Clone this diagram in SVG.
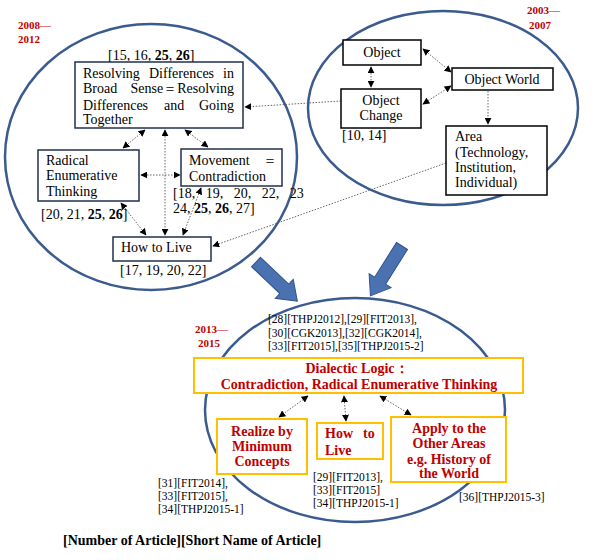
<svg xmlns="http://www.w3.org/2000/svg" width="592" height="560" viewBox="0 0 592 560">
<defs>
<marker id="ah" viewBox="0 0 10 10" refX="9" refY="5" markerWidth="7" markerHeight="7" markerUnits="userSpaceOnUse" orient="auto-start-reverse">
<path d="M0,0 L10,5 L0,10 z" fill="#000"/>
</marker>
<style>
.ell{fill:none;stroke:#3b5b8f;stroke-width:2.5}
.nb{fill:#fff;stroke:#1f3050;stroke-width:1.5}
.kb{fill:#fff;stroke:#000;stroke-width:1.5}
.ob{fill:#fff;stroke:#ffc000;stroke-width:2}
.t{font-family:"Liberation Serif",serif;font-size:14px;fill:#000}
.s{font-family:"Liberation Serif",serif;font-size:11.5px;fill:#000}
.r{font-family:"Liberation Serif",serif;font-size:14px;font-weight:bold;fill:#c00000}
.y{font-family:"Liberation Serif",serif;font-size:11px;font-weight:bold;fill:#c00000}
.c{fill:none;stroke:#666;stroke-width:1;stroke-dasharray:1.5 1.5}
.d{marker-start:url(#ah);marker-end:url(#ah)}
.e{marker-end:url(#ah)}
.big{fill:#4a72b0;stroke:#2f528f;stroke-width:1}
</style>
</defs>
<rect width="592" height="560" fill="#fff"/>

<g id="ellipses">
<ellipse class="ell" cx="151" cy="157" rx="146" ry="133"/>
<ellipse class="ell" cx="443" cy="108" rx="135" ry="97"/>
<ellipse class="ell" cx="355" cy="410" rx="150" ry="112"/>
</g>

<g id="years">
<text class="y" x="18" y="29">2008—</text>
<text class="y" x="18" y="43">2012</text>
<text class="y" x="527" y="14">2003—</text>
<text class="y" x="529" y="29">2007</text>
<text class="y" x="195" y="333">2013—</text>
<text class="y" x="198" y="347">2015</text>
</g>

<g id="big-arrows">
<polygon class="big" transform="translate(256,262) rotate(43.5)" points="0,-6.5 39,-6.5 39,-13 57,0 39,13 39,6.5 0,6.5"/>
<polygon class="big" transform="translate(402,246) rotate(122.3)" points="0,-6.5 41,-6.5 41,-13 59,0 41,13 41,6.5 0,6.5"/>
</g>

<g id="connectors">
<line class="c d" x1="145" y1="130" x2="123" y2="148"/>
<line class="c d" x1="165" y1="130" x2="165" y2="235"/>
<line class="c d" x1="185" y1="130" x2="208" y2="147"/>
<line class="c d" x1="141" y1="175" x2="180" y2="175"/>
<line class="c d" x1="121" y1="203" x2="146" y2="235"/>
<line class="c d" x1="201" y1="188" x2="183" y2="235"/>
<line class="c e" x1="446" y1="163" x2="213" y2="246"/>
<line class="c e" x1="341" y1="101" x2="245" y2="107"/>
<line class="c d" x1="371" y1="67" x2="371" y2="87"/>
<line class="c d" x1="423" y1="49" x2="451" y2="72"/>
<line class="c d" x1="423" y1="104" x2="451" y2="86"/>
<line class="c e" x1="488" y1="91" x2="488" y2="124"/>
<line class="c d" x1="308" y1="396" x2="279" y2="417"/>
<line class="c d" x1="344" y1="396" x2="346" y2="421"/>
<line class="c d" x1="380" y1="396" x2="411" y2="415"/>
</g>

<g id="n-resolving">
<text class="t" x="108" y="60">[15, 16, <tspan font-weight="bold">25</tspan>, <tspan font-weight="bold">26</tspan>]</text>
<rect class="nb" x="75" y="62" width="168" height="66"/>
<text class="t" y="78"><tspan x="83">Resolving</tspan><tspan x="149">Differences</tspan><tspan x="234" text-anchor="end">in</tspan></text>
<text class="t" y="93"><tspan x="83">Broad</tspan><tspan x="234" text-anchor="end">Sense＝Resolving</tspan></text>
<text class="t" y="110"><tspan x="83">Differences</tspan><tspan x="164">and</tspan><tspan x="234" text-anchor="end">Going</tspan></text>
<text class="t" x="83" y="124">Together</text>
</g>

<g id="n-radical">
<rect class="nb" x="38" y="150" width="101" height="51"/>
<text class="t" x="46" y="165">Radical</text>
<text class="t" x="46" y="180">Enumerative</text>
<text class="t" x="46" y="196">Thinking</text>
<text class="t" x="41" y="219">[20, 21, <tspan font-weight="bold">25</tspan>, <tspan font-weight="bold">26</tspan>]</text>
</g>

<g id="n-movement">
<rect class="nb" x="181" y="149" width="101" height="37"/>
<text class="t" y="165"><tspan x="189">Movement</tspan><tspan x="263">＝</tspan></text>
<text class="t" x="189" y="181">Contradiction</text>
<text class="t" x="173" y="198" word-spacing="7">[18, 19, 20, 22, 23</text>
<text class="t" x="173" y="213">24, <tspan font-weight="bold">25</tspan>, <tspan font-weight="bold">26</tspan>, 27]</text>
</g>

<g id="n-howtolive">
<rect class="nb" x="113" y="237" width="98" height="24"/>
<text class="t" x="121" y="252">How to Live</text>
<text class="t" x="120" y="275">[17, 19, 20, 22]</text>
</g>

<g id="n-object">
<rect class="kb" x="343" y="40" width="78" height="25"/>
<text class="t" x="382" y="57" text-anchor="middle">Object</text>
</g>

<g id="n-objectworld">
<rect class="kb" x="452" y="68" width="101" height="22"/>
<text class="t" x="502" y="84" text-anchor="middle">Object World</text>
</g>

<g id="n-objectchange">
<rect class="kb" x="341" y="89" width="80" height="39"/>
<text class="t" x="381" y="105" text-anchor="middle">Object</text>
<text class="t" x="381" y="120" text-anchor="middle">Change</text>
<text class="t" x="342" y="140" font-size="13">[10, 14]</text>
</g>

<g id="n-area">
<rect class="kb" x="446" y="126" width="101" height="69"/>
<text class="t" x="455" y="141">Area</text>
<text class="t" x="455" y="157">(Technology,</text>
<text class="t" x="455" y="172">Institution,</text>
<text class="t" x="455" y="187">Individual)</text>
</g>

<g id="refs-2013">
<text class="s" x="268" y="323">[28][THPJ2012],[29][FIT2013],</text>
<text class="s" x="268" y="337">[30][CGK2013],[32][CGK2014],</text>
<text class="s" x="268" y="350">[33][FIT2015],[35][THPJ2015-2]</text>
</g>

<g id="n-dialectic">
<rect class="ob" x="194" y="358" width="329" height="35"/>
<text class="r" x="357" y="373" text-anchor="middle">Dialectic Logic：</text>
<text class="r" x="359" y="389" text-anchor="middle">Contradiction, Radical Enumerative Thinking</text>
</g>

<g id="n-realize">
<rect class="ob" x="217" y="419" width="90" height="55"/>
<text class="r" x="262" y="436" text-anchor="middle">Realize by</text>
<text class="r" x="262" y="451" text-anchor="middle">Minimum</text>
<text class="r" x="262" y="466" text-anchor="middle">Concepts</text>
<text class="s" x="158" y="487">[31][FIT2014],</text>
<text class="s" x="158" y="500">[33][FIT2015],</text>
<text class="s" x="158" y="513">[34][THPJ2015-1]</text>
</g>

<g id="n-howtolive2">
<rect class="ob" x="317" y="423" width="66" height="36"/>
<text class="r" y="438"><tspan x="325">How</tspan><tspan x="363">to</tspan></text>
<text class="r" x="325" y="455">Live</text>
<text class="s" x="313" y="481">[29][FIT2013],</text>
<text class="s" x="313" y="494">[33][FIT2015]</text>
<text class="s" x="313" y="507">[34][THPJ2015-1]</text>
</g>

<g id="n-apply">
<rect class="ob" x="391" y="417" width="115" height="65"/>
<text class="r" x="449" y="433" text-anchor="middle">Apply to the</text>
<text class="r" x="449" y="448" text-anchor="middle">Other Areas</text>
<text class="r" x="449" y="464" text-anchor="middle">e.g. History of</text>
<text class="r" x="449" y="478" text-anchor="middle">the World</text>
<text class="s" x="459" y="501">[36][THPJ2015-3]</text>
</g>

<g id="legend">
<text class="t" x="63" y="545" font-size="12" font-weight="bold">[Number of Article][Short Name of Article]</text>
</g>
</svg>
